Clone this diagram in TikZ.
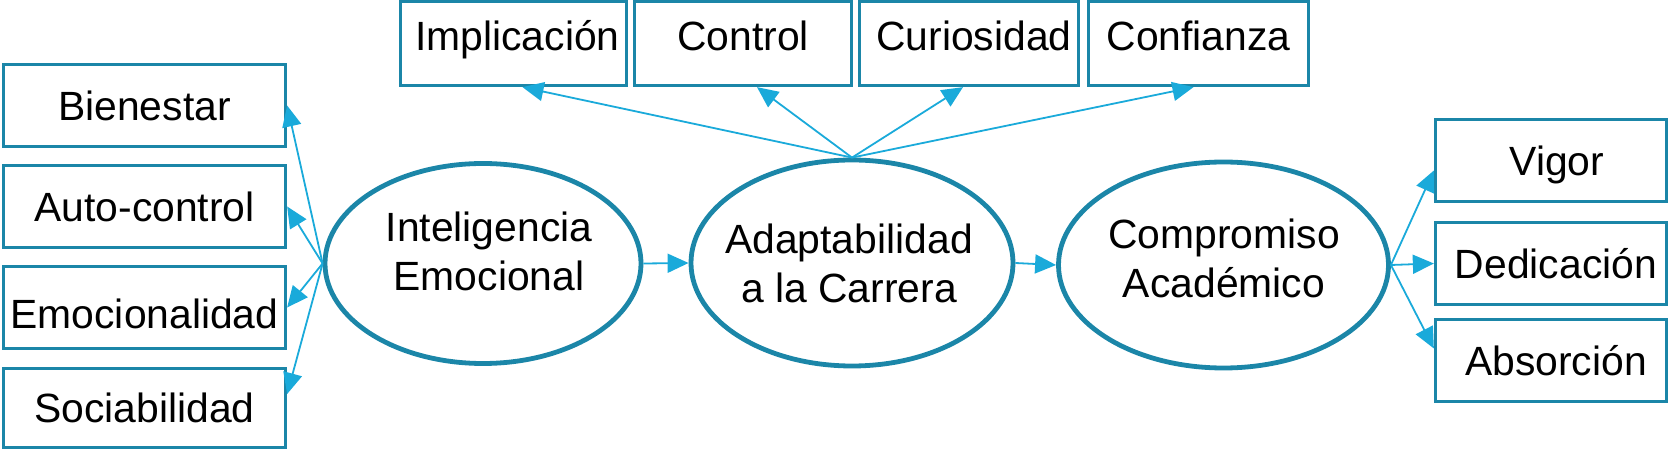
\documentclass[tikz,border=0pt]{standalone}
\usepackage{fontspec}
\setmainfont{Liberation Sans}
\usetikzlibrary{arrows.meta,shapes.geometric,calc}
\definecolor{boxc}{RGB}{27,134,168}
\definecolor{arrc}{RGB}{26,170,218}
\begin{document}
\begin{tikzpicture}[x=1bp,y=-1bp,
  every node/.style={font=\fontsize{41}{49}\selectfont, inner sep=0pt},
  box/.style={draw=boxc, line width=3.3bp, rectangle, minimum height=82bp, text height=29.4bp, text depth=0bp},
  topbox/.style={box, minimum height=84bp, text depth=16bp},
  ell/.style={draw=boxc, line width=4.8bp, ellipse},
  conn/.style={draw=arrc, line width=1.8bp, -{Triangle[length=21bp,width=19bp]}}
]
\useasboundingbox (0,0) rectangle (1670,452);
% left boxes
\node[box, minimum width=282bp] (bien) at (144.5,105.5) {Bienestar};
\node[box, minimum width=282bp] (ac) at (144.5,206.5) {Auto-control};
\node[box, minimum width=282bp, text height=41.4bp] (emoc) at (144.5,307.5) {Emocionalidad};
\node[box, minimum width=282bp, minimum height=79bp] (soc) at (144.5,408) {Sociabilidad};
% right boxes
\node[box, minimum width=231bp] (vig) at (1551,160.5) {\hspace*{12bp}Vigor};
\node[box, minimum width=231bp] (ded) at (1551,263.5) {\hspace*{10bp}Dedicación};
\node[box, minimum width=231bp] (abso) at (1551,360.5) {\hspace*{10bp}Absorción};
% top boxes
\node[topbox, minimum width=226bp] (imp) at (513.5,43.5) {\hspace*{8bp}Implicación};
\node[topbox, minimum width=217bp] (ctl) at (743,43.5) {Control};
\node[topbox, minimum width=219bp] (cur) at (969,43.5) {\hspace*{10bp}Curiosidad};
\node[topbox, minimum width=220bp] (conf) at (1198.5,43.5) {Confianza};
% ellipses
\node[ell, minimum width=316bp, minimum height=200bp] (ie) at (483,263.5) {};
\node[ell, minimum width=322bp, minimum height=206bp] (ad) at (852,263) {};
\node[ell, minimum width=330bp, minimum height=206bp] (cp) at (1223.5,265) {};
\node[align=center] (ieT) at (489,251.5) {Inteligencia\\Emocional};
\node[align=center] (adT) at (849,263.3) {Adaptabilidad\\a la Carrera};
\node[align=center] (cpT) at (1224,258) {Compromiso\\Académico};
% connectors
\draw[conn] (ie.west) -- (bien.east);
\draw[conn] (ie.west) -- (ac.east);
\draw[conn] (ie.west) -- (emoc.east);
\draw[conn] (ie.west) -- ($(soc.east)+(0,-14)$);
\draw[conn] (ie.east) -- (ad.west);
\draw[conn] (ad.east) -- (cp.west);
\draw[conn] (ad.north) -- ($(imp.south)+(9,0)$);
\draw[conn] (ad.north) -- ($(ctl.south)+(14,0)$);
\draw[conn] (ad.north) -- ($(cur.south)+(-6,0)$);
\draw[conn] (ad.north) -- ($(conf.south)+(-5,0)$);
\draw[conn] (cp.east) -- ($(vig.west)+(0,10)$);
\draw[conn] (cp.east) -- (ded.west);
\draw[conn] (cp.east) -- ($(abso.west)+(0,-12)$);
\end{tikzpicture}
\end{document}
